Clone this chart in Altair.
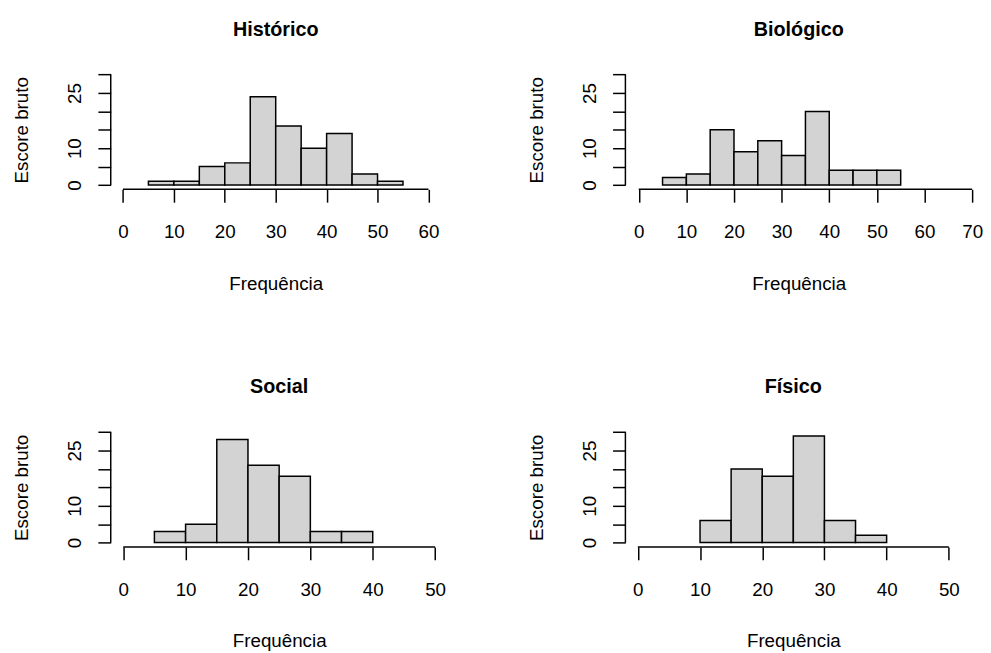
import altair as alt
import pandas as pd

# ---- data ----
panel_titles = ["Histórico", "Biológico", "Social", "Físico"]

bin_starts_historico = [5, 10, 15, 20, 25, 30, 35, 40, 45, 50]
counts_historico = [1, 1, 5, 6, 24, 16, 10, 14, 3, 1]

bin_starts_biologico = [5, 10, 15, 20, 25, 30, 35, 40, 45, 50]
counts_biologico = [2, 3, 15, 9, 12, 8, 20, 4, 4, 4]

bin_starts_social = [5, 10, 15, 20, 25, 30, 35]
counts_social = [3, 5, 28, 21, 18, 3, 3]

bin_starts_fisico = [10, 15, 20, 25, 30, 35]
counts_fisico = [6, 20, 18, 29, 6, 2]

bin_width = 5

x_ticks_historico = [0, 10, 20, 30, 40, 50, 60]
x_ticks_biologico = [0, 10, 20, 30, 40, 50, 60, 70]
x_ticks_social = [0, 10, 20, 30, 40, 50]
x_ticks_fisico = [0, 10, 20, 30, 40, 50]

y_ticks = [0, 5, 10, 15, 20, 25, 30]
y_labeled = [0, 10, 25]

x_title = "Frequência"
y_title = "Escore bruto"

FONT = "Liberation Sans"
PLOT_H = 120.6
Y_DOMAIN = [-1.2, 31.2]
LINE_W = 1.5

label_expr = "indexof([" + ",".join(str(v) for v in y_labeled) + "], datum.value) >= 0 ? datum.label : ''"


def panel(title, starts, counts, xticks, xdom, width):
    df = pd.DataFrame({
        "start": starts,
        "end": [s + bin_width for s in starts],
        "count": counts,
    })
    one = pd.DataFrame({"k": [0]})
    xscale = alt.Scale(domain=xdom, nice=False, zero=False)
    yscale = alt.Scale(domain=Y_DOMAIN, nice=False, zero=False)

    xaxis = alt.Axis(
        values=xticks, title=x_title, domain=False, grid=False,
        tickSize=13, tickWidth=LINE_W, tickColor="black",
        labelFontSize=19, labelBaseline="alphabetic", labelPadding=36,
        labelOverlap=False, labelFlush=False, labelColor="black", labelFont=FONT,
        titleFontSize=19, titleFontWeight="normal", titleBaseline="alphabetic",
        titleY=101, titleColor="black", titleFont=FONT,
    )
    yaxis = alt.Axis(
        values=y_ticks, title=y_title, domain=False, grid=False,
        tickSize=13, tickWidth=LINE_W, tickColor="black",
        labelExpr=label_expr, labelAngle=270, labelAlign="center",
        labelBaseline="alphabetic", labelPadding=17.5,
        labelOverlap=False, labelFlush=False, labelFontSize=19,
        labelColor="black", labelFont=FONT,
        titleFontSize=19, titleFontWeight="normal", titleAngle=270,
        titleAlign="center", titleBaseline="alphabetic",
        titleX=-84, titleY=PLOT_H / 2, titleColor="black", titleFont=FONT,
    )

    bars = alt.Chart(df).mark_bar(
        fill="#D3D3D3", stroke="black", strokeWidth=LINE_W
    ).encode(
        x=alt.X("start:Q", scale=xscale, axis=xaxis),
        x2="end:Q",
        y=alt.Y("count:Q", scale=yscale, axis=yaxis),
        y2=alt.datum(0),
    )

    xline = alt.Chart(one).mark_rule(color="black", strokeWidth=LINE_W).encode(
        x=alt.XDatum(xticks[0], axis=xaxis, scale=xscale),
        x2=alt.X2Datum(xticks[-1]),
        y=alt.YDatum(Y_DOMAIN[0], axis=yaxis, scale=yscale),
    )
    yline = alt.Chart(one).mark_rule(color="black", strokeWidth=LINE_W).encode(
        x=alt.XDatum(xdom[0], axis=xaxis, scale=xscale),
        y=alt.YDatum(y_ticks[0], axis=yaxis, scale=yscale),
        y2=alt.Y2Datum(y_ticks[-1]),
    )

    return alt.layer(bars, xline, yline).properties(
        width=width, height=PLOT_H,
        title=alt.Title(title, fontSize=20, fontWeight="bold", font=FONT,
                        color="black", anchor="middle", baseline="alphabetic",
                        offset=15),
    )


p1 = panel(panel_titles[0], bin_starts_historico, counts_historico,
           x_ticks_historico, [-2.4, 62.4], 334)
p2 = panel(panel_titles[1], bin_starts_biologico, counts_biologico,
           x_ticks_biologico, [-2.8, 70], 351)
p3 = panel(panel_titles[2], bin_starts_social, counts_social,
           x_ticks_social, [-2, 52], 341)
p4 = panel(panel_titles[3], bin_starts_fisico, counts_fisico,
           x_ticks_fisico, [-2, 52], 340)

chart = alt.concat(
    p1, p2, p3, p4, columns=2,
    spacing={"row": 241, "column": 180},
    bounds="flush", align="each",
).properties(
    padding={"left": 5, "top": 8, "right": 0, "bottom": 0},
).configure(background="white").configure_view(strokeWidth=0, stroke=None)

chart.save("out.html", embed_options={"renderer": "svg", "actions": False})
